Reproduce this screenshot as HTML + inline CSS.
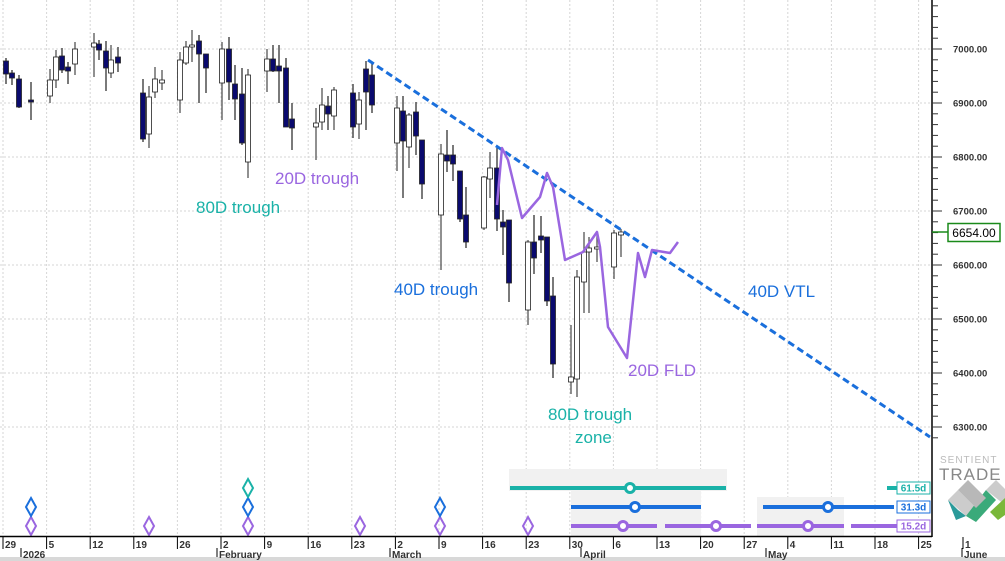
<!DOCTYPE html>
<html><head><meta charset="utf-8"><style>
html,body{margin:0;padding:0;background:#fff;}
svg{display:block;font-family:"Liberation Sans",sans-serif;}
</style></head><body>
<svg id="s" width="1005" height="561" viewBox="0 0 1005 561" xmlns="http://www.w3.org/2000/svg">
<rect width="1005" height="561" fill="#fff"/>
<g id="grid"></g>
<!-- cycle grey zones -->
<rect x="509" y="469" width="218" height="22" fill="#f1f1f1"/>
<rect x="571" y="491" width="130" height="45" fill="#f1f1f1"/>
<rect x="757" y="497" width="87" height="39" fill="#f1f1f1"/>
<g id="candles"></g>
<!-- VTL -->
<line x1="368" y1="60" x2="930" y2="437" stroke="#1a6fdc" stroke-width="3" stroke-dasharray="7,4"/>
<!-- FLD -->
<polyline fill="none" stroke="#9a66e0" stroke-width="2.5" stroke-linejoin="round" points="497,205 502,148 508,160 522,218 540,197 547,173 553,187 565,260 583,252 597,232 600,247 608,327 627,358 638,253 645,277 652,250 670,253 678,242"/>
<!-- annotations -->
<g font-size="17">
<text x="275" y="184" fill="#9a66e0">20D trough</text>
<text x="196" y="213" fill="#1ab2a8">80D trough</text>
<text x="394" y="295" fill="#1a6fdc">40D trough</text>
<text x="748" y="297" fill="#1a6fdc">40D VTL</text>
<text x="628" y="376" fill="#9a66e0">20D FLD</text>
<text x="548" y="420" fill="#1ab2a8">80D trough</text>
<text x="575" y="443" fill="#1ab2a8">zone</text>
</g>
<g id="diam" fill="none" stroke-width="2"></g>
<!-- cycle bars -->
<g stroke-width="4">
<line x1="510" y1="488" x2="726" y2="488" stroke="#1ab2a8"/>
<line x1="887" y1="488" x2="897" y2="488" stroke="#1ab2a8"/>
<line x1="571" y1="507" x2="701" y2="507" stroke="#1a6fdc"/>
<line x1="763" y1="507" x2="894" y2="507" stroke="#1a6fdc"/>
<line x1="571" y1="526" x2="657" y2="526" stroke="#9a66e0"/>
<line x1="665" y1="526" x2="751" y2="526" stroke="#9a66e0"/>
<line x1="757" y1="526" x2="844" y2="526" stroke="#9a66e0"/>
<line x1="851" y1="526" x2="897" y2="526" stroke="#9a66e0"/>
</g>
<g fill="#fff" stroke-width="3">
<circle cx="630" cy="488" r="4.5" stroke="#1ab2a8"/>
<circle cx="635" cy="507" r="4.5" stroke="#1a6fdc"/>
<circle cx="828" cy="507" r="4.5" stroke="#1a6fdc"/>
<circle cx="623" cy="526" r="4.5" stroke="#9a66e0"/>
<circle cx="716" cy="526" r="4.5" stroke="#9a66e0"/>
<circle cx="808" cy="526" r="4.5" stroke="#9a66e0"/>
</g>
<g font-size="10" font-weight="bold" text-anchor="middle">
<rect x="897" y="482" width="33" height="12" fill="#fff" stroke="#1ab2a8"/><text x="913.5" y="491.5" fill="#1ab2a8">61.5d</text>
<rect x="897" y="501" width="33" height="12" fill="#fff" stroke="#1a6fdc"/><text x="913.5" y="510.5" fill="#1a6fdc">31.3d</text>
<rect x="897" y="520" width="33" height="12" fill="#fff" stroke="#9a66e0"/><text x="913.5" y="529.5" fill="#9a66e0">15.2d</text>
</g>
<!-- axes -->
<line x1="932" y1="0" x2="932" y2="537" stroke="#000" stroke-width="1.5"/>
<line x1="0" y1="536.5" x2="932" y2="536.5" stroke="#000" stroke-width="1.5"/>
<rect x="0" y="557" width="1005" height="4" fill="#d8d8d8"/>
<g id="yaxis" font-size="9.5" font-weight="bold" fill="#333"></g>
<g id="xaxis" font-size="10" font-weight="bold" fill="#333"></g>
<!-- price label -->
<line x1="932" y1="232" x2="948" y2="232" stroke="#1a8a1a" stroke-width="1.5"/>
<rect x="948" y="223.5" width="52" height="18" fill="#fff" stroke="#1a8a1a" stroke-width="1.5"/>
<text x="974" y="237" font-size="12" text-anchor="middle" fill="#000">6654.00</text>
<!-- logo -->
<text x="940" y="463" font-size="10" fill="#bbb" letter-spacing="1">SENTIENT</text>
<text x="939" y="480" font-size="17" fill="#888" letter-spacing="1">TRADE</text>
<polygon points="948,500 958,490 975,507 966,516" fill="#ccc"/>
<polygon points="948,500 958,510 966,516 956,520" fill="#2a9a9a"/>
<polygon points="966,516 986,490 996,500 976,522" fill="#3aaa7a"/>
<polygon points="958,490 968,480 986,498 976,508" fill="#b8b8b8"/>
<polygon points="986,490 996,480 1005,489 1005,505" fill="#ccc"/>
<polygon points="990,512 1005,498 1005,515 998,520" fill="#7ab83a"/>
</svg>
<script>
const NS="http://www.w3.org/2000/svg";
function el(p,t,a,txt){const e=document.createElementNS(NS,t);for(const k in a)e.setAttribute(k,a[k]);if(txt!==undefined)e.textContent=txt;document.getElementById(p).appendChild(e);return e;}
const py=p=>49+(7000-p)*0.54;
// grid
for(let p=6300;p<=7100;p+=100){const y=py(p);el("grid","line",{x1:0,x2:932,y1:y,y2:y,stroke:"#d6d6d6","stroke-dasharray":"2,2"});}
const days=["29","5","12","19","26","2","9","16","23","2","9","16","23","30","6","13","20","27","4","11","18","25"];
for(let k=0;k<days.length;k++){const x=3+43.6*k;
 el("grid","line",{x1:x,x2:x,y1:0,y2:536,stroke:"#d6d6d6","stroke-dasharray":"2,2"});
 el("xaxis","line",{x1:x,x2:x,y1:537,y2:549,stroke:"#000"});
 el("xaxis","text",{x:x+2,y:548},days[k]);}
el("xaxis","line",{x1:963,x2:963,y1:537,y2:549,stroke:"#000"});el("xaxis","text",{x:965,y:548},"1");
[[21,"2026"],[217,"February"],[390,"March"],[581,"April"],[766,"May"],[962,"June"]].forEach(m=>{
 el("xaxis","line",{x1:m[0],x2:m[0],y1:548,y2:557,stroke:"#000"});el("xaxis","text",{x:m[0]+2,y:558},m[1]);});
// y axis
for(let p=6280;p<=7120;p+=20){const y=py(p);if(y<0||y>536)continue;const maj=p%100==0;
 el("yaxis","line",{x1:932,x2:maj?942:938,y1:y,y2:y,stroke:"#333"});
 if(maj)el("yaxis","text",{x:953,y:y+3.5},p.toFixed(2));}
// candles [x, bodyTop, bodyBot, wickTop, wickBot, dark]
const C=[[6,61,74,58,84,1],[12,73,78,70,85,1],[19,79,107,75,108,1],[31,100,102,82,120,1],[50,80,96,69,103,0],[56,57,80,50,88,0],[62,56,70,48,73,1],[68,67,71,62,84,1],[75,49,64,42,75,0],
[94,43,47,33,77,0],[99,44,50,40,60,1],[106,51,68,41,91,1],[111,60,73,45,78,0],[118,57,63,47,72,1],
[143,93,139,79,142,1],[149,97,134,86,148,0],[155,79,92,67,98,0],[162,80,83,70,90,0],
[180,60,100,52,113,0],[186,47,63,41,65,0],[192,45,47,30,62,0],[199,41,54,35,103,1],[206,54,68,55,93,1],
[222,49,83,42,120,0],[229,49,82,37,100,1],[235,84,99,65,120,1],[242,94,143,68,145,1],[248,75,162,69,178,0],
[267,59,71,49,92,0],[273,59,71,45,72,1],[279,66,71,45,103,1],[286,68,127,58,127,1],[292,119,128,103,150,1],
[316,123,127,108,160,0],[322,105,122,88,130,0],[328,106,114,96,130,1],[334,90,116,87,130,0],
[353,93,127,84,138,1],[359,100,124,92,139,0],[366,69,92,61,130,1],[372,75,105,63,113,1],
[397,108,143,96,171,0],[403,111,141,96,198,1],[409,115,147,113,168,0],[416,112,136,102,155,1],[422,140,184,140,199,1],
[441,154,215,144,270,0],[447,155,161,130,172,1],[453,155,164,145,181,1],[460,171,219,171,222,1],[466,215,242,187,248,1],
[484,177,228,176,230,0],[490,168,179,152,198,0],[497,168,219,148,231,1],[503,222,227,210,255,1],[509,220,283,220,302,1],
[528,242,310,240,325,0],[534,242,258,215,274,1],[541,236,240,216,253,1],[547,237,301,237,306,1],[553,296,364,277,378,1],
[571,377,382,325,394,0],[577,277,379,270,397,0],[584,252,282,232,313,0],[589,248,252,237,313,0],[597,247,249,233,262,0],
[614,233,267,230,279,0],[621,232,235,229,257,0]];
C.forEach(c=>{const[x,t,b,wt,wb,d]=c;
 el("candles","line",{x1:x,x2:x,y1:wt,y2:wb,stroke:d?"#333":"#555","stroke-width":1.3});
 el("candles","rect",{x:x-2.5,y:t,width:5,height:Math.max(b-t,1.5),fill:d?"#0a0a6e":"#fff",stroke:"#222","stroke-width":0.8});});
// diamonds
const D=[[31,526,"#9a66e0"],[149,526,"#9a66e0"],[248,526,"#9a66e0"],[360,526,"#9a66e0"],[440,526,"#9a66e0"],[528,526,"#9a66e0"],
[31,507,"#1a6fdc"],[248,507,"#1a6fdc"],[440,507,"#1a6fdc"],[248,488,"#1ab2a8"]];
D.forEach(d=>{const[x,y,c]=d;el("diam","polygon",{points:`${x},${y-9} ${x+5},${y} ${x},${y+9} ${x-5},${y}`,stroke:c});});
</script>
</body></html>
